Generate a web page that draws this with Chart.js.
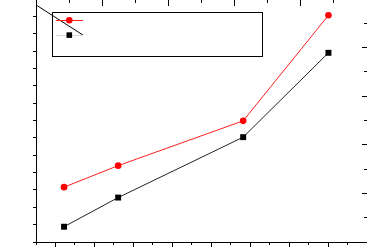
<!DOCTYPE html>
<html>
<head>
<meta charset="utf-8">
<script src="https://cdn.jsdelivr.net/npm/chart.js@4/dist/chart.umd.min.js"></script>
<style>
  html, body { margin: 0; padding: 0; background: #fff; overflow: hidden; width: 367px; height: 248px; }
  #wrap { position: absolute; left: 0; top: -2px; width: 372px; height: 252px; }
</style>
</head>
<body>
<div id="wrap"><canvas id="c" width="372" height="252"></canvas></div>
<script>
// ---- data ----
const xValues      = [12.2, 26.1, 58.2, 80.1];
const redValues    = [20.8, 27.0, 39.9, 70.3];
const blackValues  = [9.4, 17.8, 35.2, 59.5];
// stray straight line seen at the top-left of the plot
const strayX       = [5, 17.07];
const strayY       = [73.3, 64.6];
// axis ranges
const xRange   = [5, 90];   // bottom axis
const yRange   = [5, 75];   // left axis
const topRange = [0, 10];   // top axis
const rightRange = [0, 10]; // right axis

const toPts = (xs, ys) => xs.map((x, i) => ({x: x, y: ys[i]}));

function axis(pos, range, step, len, weight, size, border, majorMod) {
  const horizontal = (pos === 'top' || pos === 'bottom');
  return {
    type: 'linear', position: pos, min: range[0], max: range[1], weight: weight,
    ticks: { display: false, stepSize: step },
    afterBuildTicks: s => {
      if (majorMod) s.ticks = s.ticks.filter(t => Math.abs(t.value / majorMod - Math.round(t.value / majorMod)) < 1e-6);
    },
    grid: { display: true, drawOnChartArea: false, drawTicks: true, tickLength: len, tickColor: '#000', tickWidth: 1 },
    border: { display: border, color: '#000', width: 1 },
    afterFit: s => { if (horizontal) s.height = size; else s.width = size; }
  };
}

const legendBox = {
  id: 'legendBox',
  afterDatasetsDraw(chart) {
    const ctx = chart.ctx;
    ctx.save();
    // canvas offset: screen y = canvas y - 2
    const oy = 2;
    ctx.strokeStyle = '#000';
    ctx.lineWidth = 1;
    ctx.strokeRect(52.5, 12.5 + oy, 210, 44);
    const ds = chart.data.datasets;
    // red entry
    ctx.strokeStyle = ds[0].borderColor; ctx.lineWidth = 1;
    ctx.beginPath(); ctx.moveTo(56, 20.5 + oy); ctx.lineTo(83, 20.5 + oy); ctx.stroke();
    ctx.fillStyle = ds[0].pointBackgroundColor;
    ctx.beginPath(); ctx.arc(69.3, 20.3 + oy, 3.3, 0, Math.PI * 2); ctx.fill();
    // black entry
    ctx.strokeStyle = '#d8d8d8';
    ctx.beginPath(); ctx.moveTo(56, 35.5 + oy); ctx.lineTo(83, 35.5 + oy); ctx.stroke();
    ctx.fillStyle = ds[1].pointBackgroundColor;
    ctx.fillRect(66.5, 32.3 + oy, 5.6, 5.6);
    ctx.restore();
  }
};

new Chart(document.getElementById('c'), {
  type: 'scatter',
  data: {
    datasets: [
      { data: toPts(xValues, redValues), showLine: true, borderColor: '#ff2020', borderWidth: 1,
        pointStyle: 'circle', pointRadius: 3.3, pointBorderWidth: 0,
        pointBackgroundColor: '#ff0000', pointBorderColor: '#ff0000', xAxisID: 'x', yAxisID: 'y' },
      { data: toPts(xValues, blackValues), showLine: true, borderColor: '#222', borderWidth: 1,
        pointStyle: 'rect', pointRadius: 4.2, pointBorderWidth: 0,
        pointBackgroundColor: '#000', pointBorderColor: '#000', xAxisID: 'x', yAxisID: 'y' },
      { data: toPts(strayX, strayY), showLine: true, borderColor: '#000', borderWidth: 1,
        pointRadius: 0, xAxisID: 'x', yAxisID: 'y' }
    ]
  },
  options: {
    responsive: false, animation: false, devicePixelRatio: 1,
    layout: { padding: 0, autoPadding: false },
    plugins: { legend: { display: false }, tooltip: { enabled: false } },
    scales: {
      x:      axis('bottom', xRange, 10, 5, 1, 8, true, 10),
      xMinor: axis('bottom', xRange, 5, 3, 0, 0, false, 0),
      y:      axis('left', yRange, 10, 5, 1, 36, true, 10),
      yMinor: axis('left', yRange, 5, 3, 0, 0, false, 0),
      x2:      axis('top', topRange, 2, -7, 1, 1, true, 2),
      x2Minor: axis('top', topRange, 1, -4, 0, 0, false, 0),
      y2:      axis('right', rightRange, 2, -5, 1, 5, true, 2),
      y2Minor: axis('right', rightRange, 1, -3, 0, 0, false, 0)
    }
  },
  plugins: [legendBox]
});
</script>
</body>
</html>
